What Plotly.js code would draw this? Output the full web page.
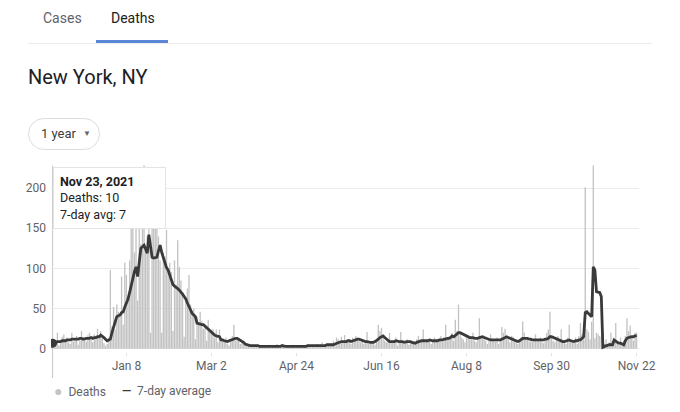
<!DOCTYPE html>
<html>
<head>
<meta charset="utf-8">
<script src="https://cdn.plot.ly/plotly-3.0.1.min.js"></script>
<style>
  body { margin: 0; background: #fff; font-family: Roboto, Arial, sans-serif; }
  #wrap { position: relative; width: 680px; height: 412px; overflow: hidden; }
  #chart { position: absolute; left: 0; top: 0; width: 680px; height: 412px; }
  .tab { position: absolute; top: 10px; font-size: 14px; color: #5f6368; }
  .tab.on { color: #202124; }
  #underline { position: absolute; left: 96px; top: 40px; width: 72px; height: 3px; background: #5a87d8; }
  #rule { position: absolute; left: 28px; top: 43px; width: 624px; height: 1px; background: #ececec; }
  #place { position: absolute; left: 28px; top: 65px; font-size: 20px; color: #202124; }
  #range { position: absolute; left: 28px; top: 118px; width: 72px; height: 32px; box-sizing: border-box;
           border: 1px solid #dadce0; border-radius: 16px; font-size: 13px; color: #3c4043;
           line-height: 30px; padding-left: 12px; }
  #range span { font-size: 8px; margin-left: 7px; vertical-align: 2px; color: #5f6368; }
</style>
</head>
<body>
<div id="wrap">
  <div id="chart"></div>
  <div class="tab" style="left:43px">Cases</div>
  <div class="tab on" style="left:111px">Deaths</div>
  <div id="underline"></div>
  <div id="rule"></div>
  <div id="place">New York, NY</div>
  <div id="range">1 year<span>&#9660;</span></div>
</div>
<script>
// daily values from Nov 23 2020, one row per week
var deaths = [
  10, 12, 6, 20, 4, 8, 15,
  18, 10, 14, 8, 6, 20, 9,
  12, 16, 5, 14, 22, 10, 13,
  9, 17, 20, 11, 8, 18, 14,
  25, 13, 22, 16, 7, 4, 6,
  14, 98, 28, 52, 24, 55, 46,
  40, 90, 30, 107, 92, 60, 110,
  150, 155, 120, 154, 60, 172, 130,
  190, 228, 125, 140, 175, 20, 154,
  150, 213, 160, 140, 110, 20, 120,
  115, 148, 100, 107, 96, 22, 110,
  80, 135, 102, 85, 70, 15, 62,
  75, 92, 55, 45, 50, 12, 40,
  30, 46, 35, 25, 28, 10, 36,
  22, 20, 25, 14, 24, 8, 24,
  12, 10, 8, 14, 6, 4, 12,
  16, 30, 10, 12, 14, 6, 8,
  6, 8, 4, 6, 3, 2, 5,
  4, 5, 3, 2, 4, 3, 2,
  3, 2, 5, 1, 3, 4, 2,
  6, 3, 2, 4, 3, 1, 3,
  2, 4, 3, 5, 2, 3, 2,
  4, 3, 2, 3, 5, 6, 4,
  3, 5, 4, 2, 6, 4, 3,
  8, 4, 3, 6, 5, 4, 7,
  10, 6, 14, 12, 8, 15, 9,
  17, 8, 10, 12, 6, 14, 10,
  16, 12, 10, 8, 12, 6, 9,
  21, 6, 7, 10, 8, 5, 12,
  30, 22, 26, 14, 10, 8, 12,
  20, 9, 8, 10, 14, 4, 8,
  21, 10, 6, 9, 12, 5, 10,
  8, 6, 7, 12, 16, 10, 12,
  24, 8, 10, 12, 9, 6, 11,
  14, 10, 8, 12, 16, 9, 14,
  30, 12, 14, 16, 20, 10, 36,
  22, 55, 18, 14, 12, 8, 14,
  16, 12, 14, 20, 10, 8, 14,
  38, 14, 16, 12, 10, 6, 12,
  18, 10, 12, 9, 14, 6, 10,
  27, 20, 25, 14, 12, 8, 16,
  15, 10, 8, 6, 12, 14, 34,
  20, 12, 14, 9, 10, 8, 12,
  18, 12, 10, 14, 9, 7, 12,
  20, 24, 46, 14, 10, 8, 12,
  16, 10, 24, 8, 10, 6, 14,
  30, 12, 8, 10, 14, 6, 16,
  32, 18, 14, 201, 24, 21, 12,
  34, 228, 13, 20, 18, 16, 14,
  20, 6, 12, 4, 8, 20, 10,
  12, 32, 8, 6, 14, 4, 10,
  16, 38, 22, 29, 14, 10, 20,
  20
];

var avg7 = [
  7, 8, 8, 9, 9, 9, 10,
  10, 10, 11, 11, 11, 12, 12,
  12, 12, 12, 13, 13, 12, 13,
  13, 13, 13, 14, 13, 14, 14,
  15, 15, 17, 16, 14, 12, 10,
  11, 12, 20, 27, 33, 40, 41,
  42, 45, 46, 52, 57, 62, 70,
  80, 90, 96, 102, 90, 108, 125,
  127, 129, 124, 119, 142, 128, 114,
  113, 114, 114, 122, 129, 120, 113,
  106, 101, 98, 92, 86, 80, 78,
  77, 75, 73, 71, 68, 65, 62,
  57, 52, 48, 44, 42, 40, 32,
  31, 31, 30, 30, 28, 26, 24,
  22, 20, 19, 17, 16, 15, 15,
  11, 11, 10, 9, 9, 10, 11,
  12, 13, 13, 13, 12, 10, 9,
  8, 6, 5, 5, 4, 4, 4,
  4, 4, 4, 3, 3, 3, 3,
  3, 3, 3, 3, 3, 3, 3,
  3, 3, 3, 4, 3, 3, 3,
  3, 3, 3, 3, 3, 3, 3,
  3, 3, 3, 3, 3, 4, 4,
  4, 4, 4, 4, 4, 4, 4,
  4, 4, 4, 5, 5, 5, 5,
  5, 6, 7, 8, 8, 9, 9,
  9, 9, 10, 10, 9, 10, 11,
  11, 12, 12, 11, 10, 9, 9,
  9, 8, 8, 8, 8, 9, 10,
  12, 14, 15, 16, 14, 12, 10,
  9, 9, 9, 9, 10, 9, 9,
  9, 9, 8, 9, 9, 9, 9,
  8, 7, 7, 8, 9, 10, 10,
  10, 10, 10, 10, 11, 10, 10,
  10, 10, 10, 11, 11, 11, 12,
  12, 13, 13, 14, 16, 15, 17,
  18, 20, 20, 19, 17, 16, 15,
  15, 14, 14, 14, 13, 13, 13,
  14, 15, 15, 14, 13, 12, 11,
  11, 11, 11, 11, 11, 11, 11,
  12, 13, 15, 15, 14, 13, 13,
  12, 11, 10, 9, 10, 12, 13,
  13, 13, 13, 12, 12, 11, 11,
  11, 11, 11, 11, 11, 11, 12,
  12, 13, 15, 15, 14, 13, 12,
  11, 10, 9, 9, 9, 10, 11,
  11, 10, 9, 9, 10, 10, 11,
  11, 13, 15, 45, 46, 44, 42,
  40, 102, 98, 71, 70, 70, 65,
  2, 3, 4, 4, 5, 5, 5,
  11, 9, 8, 7, 7, 6, 5,
  10, 13, 14, 15, 15, 15, 16,
  17
];

var tickDates = ["2021-01-08", "2021-03-02", "2021-04-24", "2021-06-16", "2021-08-08", "2021-09-30", "2021-11-22"];
var tickLabels = ["Jan 8", "Mar 2", "Apr 24", "Jun 16", "Aug 8", "Sep 30", "Nov 22"];

var days = deaths.map(function (v, i) {
  return new Date(Date.UTC(2020, 10, 23 + i)).toISOString().slice(0, 10);
});

var barTrace = {
  x: days,
  y: deaths,
  type: "bar",
  name: "Deaths",
  marker: { color: "#c2c2c2" },
  hoverinfo: "none",
};

var avgTrace = {
  x: days,
  y: avg7,
  type: "scatter",
  mode: "lines",
  name: "7-day average",
  line: { color: "#3a3a3a", width: 2.8 },
  hoverinfo: "none",
};

var dotTrace = {
  x: [days[0]],
  y: [avg7[0]],
  type: "scatter",
  mode: "markers",
  marker: { color: "#3a3a3a", size: 9 },
  hoverinfo: "none",
};

var grey = "#5f6368";

var layout = {
  width: 680,
  height: 412,
  margin: { l: 51, r: 41, t: 160, b: 60 },
  paper_bgcolor: "rgba(0,0,0,0)",
  plot_bgcolor: "rgba(0,0,0,0)",
  font: { family: "Roboto, Arial, sans-serif", size: 12, color: grey },
  showlegend: false,
  bargap: 0.18,
  xaxis: {
    type: "date",
    range: ["2020-11-22", "2021-11-23 12:00"],
    tickvals: tickDates,
    ticktext: tickLabels,
    showgrid: false,
    zeroline: false,
    showline: false,
    ticks: "outside",
    ticklen: 3,
    tickcolor: "#e0e0e0",
    tickfont: { size: 12, color: grey },
  },
  yaxis: {
    range: [-4, 235],
    tickvals: [0, 50, 100, 150, 200],
    gridcolor: "#ebebeb",
    zeroline: false,
    showline: false,
    ticklabelstandoff: 4,
    tickfont: { size: 12, color: grey },
  },
  shapes: [
    {
      type: "line",
      xref: "x",
      yref: "paper",
      x0: days[0],
      x1: days[0],
      y0: -0.135,
      y1: 0.97,
      line: { color: "#c8c8c8", width: 1 },
      layer: "below",
    },
  ],
  annotations: [
    {
      xref: "paper",
      yref: "paper",
      x: 0.003,
      y: 0.964,
      xanchor: "left",
      yanchor: "top",
      align: "left",
      showarrow: false,
      bgcolor: "#ffffff",
      bordercolor: "#e3e3e3",
      borderwidth: 1,
      borderpad: 6,
      font: { size: 12.5, color: "#202124" },
      text: "<b>Nov 23, 2021</b>&nbsp;&nbsp;&nbsp;&nbsp;&nbsp;&nbsp;&nbsp;&nbsp;<br>Deaths: " + deaths[0] + "<br>7-day avg: " + avg7[0],
    },
    {
      xref: "paper",
      yref: "paper",
      x: 0.002,
      y: -0.203,
      xanchor: "left",
      yanchor: "middle",
      showarrow: false,
      font: { size: 12, color: grey },
      text: "<span style='color:#c4c4c4;font-size:14px'>●</span>  Deaths",
    },
    {
      xref: "paper",
      yref: "paper",
      x: 0.117,
      y: -0.203,
      xanchor: "left",
      yanchor: "middle",
      showarrow: false,
      font: { size: 12, color: grey },
      text: "<span style='color:#3a3a3a'><b>—</b></span>  7-day average",
    },
  ],
};

var config = { staticPlot: true, displayModeBar: false };

Plotly.newPlot("chart", [barTrace, avgTrace, dotTrace], layout, config);
</script>
</body>
</html>
